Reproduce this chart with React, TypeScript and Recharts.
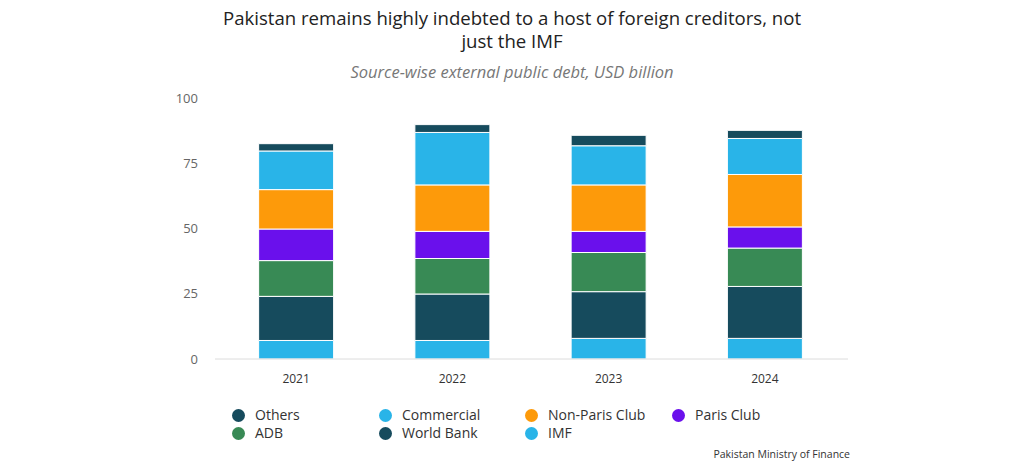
import React from 'react';
import { BarChart, Bar, XAxis, YAxis } from 'recharts';

const years = ['2021', '2022', '2023', '2024'];

// USD billion, bottom of stack first
const imf = [7.1, 7.1, 7.9, 7.9];
const worldBank = [16.9, 17.8, 17.9, 19.9];
const adb = [13.7, 13.6, 15.0, 14.7];
const parisClub = [12.1, 10.4, 8.1, 8.1];
const nonParisClub = [15.1, 17.8, 17.8, 20.1];
const commercial = [14.8, 20.1, 15.0, 13.8];
const others = [2.8, 3.0, 4.0, 3.1];

const yTicks = [0, 25, 50, 75, 100];

const DARK = '#164b5d';
const LIGHT = '#29b4e8';

const series = [
  { key: 'imf', name: 'IMF', values: imf, color: LIGHT },
  { key: 'worldBank', name: 'World Bank', values: worldBank, color: DARK },
  { key: 'adb', name: 'ADB', values: adb, color: '#388a55' },
  { key: 'parisClub', name: 'Paris Club', values: parisClub, color: '#6a10ec' },
  { key: 'nonParisClub', name: 'Non-Paris Club', values: nonParisClub, color: '#fd9a0a' },
  { key: 'commercial', name: 'Commercial', values: commercial, color: LIGHT },
  { key: 'others', name: 'Others', values: others, color: DARK },
];

const data = years.map((year, i) => {
  const row: Record<string, string | number> = { year };
  series.forEach(s => {
    row[s.key] = s.values[i];
  });
  return row;
});

// legend reads top of stack first, four per row
const legendItems = [...series].reverse();
const legendCols = [232, 379, 525, 672];

const font = '"Open Sans", "Noto Sans", sans-serif';

const App: React.FC = () => {
  return (
    <div style={{ position: 'absolute', left: 0, top: 0, width: 1024, height: 465, background: '#fff', fontFamily: font }}>
      <div style={{ position: 'absolute', top: 6, left: 0, width: 1024, textAlign: 'center', fontSize: 18.6, lineHeight: '23px', color: '#222' }}>
        Pakistan remains highly indebted to a host of foreign creditors, not
        <br />
        just the IMF
      </div>
      <div style={{ position: 'absolute', top: 60, left: 0, width: 1024, textAlign: 'center', fontSize: 16.5, fontStyle: 'italic', color: '#777' }}>
        Source-wise external public debt, USD billion
      </div>

      <BarChart
        width={1024}
        height={465}
        data={data}
        margin={{ top: 98, right: 176, bottom: 76, left: 175 }}
        barCategoryGap="26%"
      >
        <XAxis
          dataKey="year"
          height={30}
          axisLine={{ stroke: '#dcdcdc' }}
          tickLine={false}
          tickMargin={9}
          padding={{ left: 3, right: 5 }}
          tick={{ fill: '#333', fontSize: 12, fontFamily: font }}
        />
        <YAxis
          width={40}
          domain={[0, 100]}
          ticks={yTicks}
          axisLine={false}
          tickLine={false}
          tickMargin={11}
          tick={{ fill: '#666', fontSize: 13, fontFamily: font }}
        />
        {series.map(s => (
          <Bar
            key={s.key}
            dataKey={s.key}
            name={s.name}
            stackId="debt"
            fill={s.color}
            stroke="#ffffff"
            strokeWidth={1}
            isAnimationActive={false}
          />
        ))}
      </BarChart>

      {legendItems.map((s, i) => {
        const row = Math.floor(i / 4);
        const col = i % 4;
        return (
          <div
            key={s.key}
            style={{
              position: 'absolute',
              left: legendCols[col],
              top: 406 + row * 18,
              display: 'flex',
              alignItems: 'center',
              fontSize: 14,
              color: '#333',
              lineHeight: '18px',
            }}
          >
            <span style={{ width: 13, height: 13, borderRadius: '50%', background: s.color, marginRight: 10, display: 'inline-block' }} />
            {s.name}
          </div>
        );
      })}

      <div style={{ position: 'absolute', right: 174, top: 447, fontSize: 10.5, color: '#333' }}>
        Pakistan Ministry of Finance
      </div>
    </div>
  );
};

export default App;
